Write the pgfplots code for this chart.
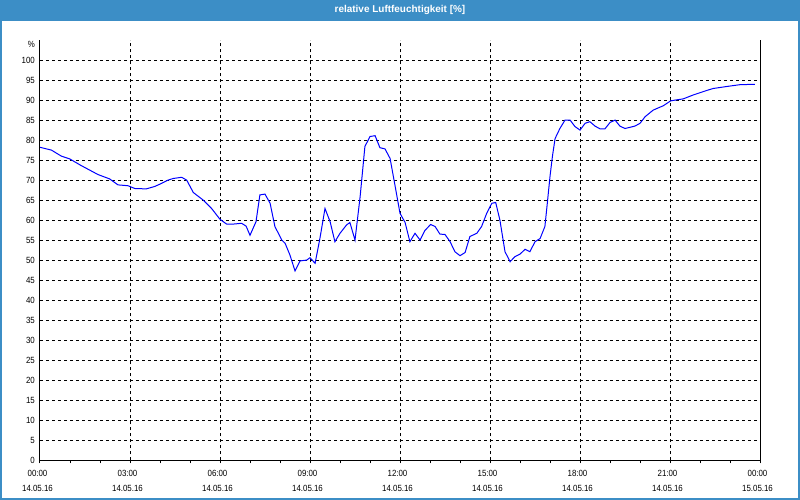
\documentclass[border=0pt]{standalone}
\usepackage{pgfplots}
\pgfplotsset{compat=1.18}
\usepackage{fontspec}
\setmainfont{Liberation Sans}[FakeStretch=0.88]
\newfontfamily\titlefont{Liberation Sans}
\definecolor{titleblue}{HTML}{3C8EC6}
\begin{document}
\begin{tikzpicture}
\useasboundingbox (0bp,0bp) rectangle (800bp,500bp);
\fill[white] (0bp,0bp) rectangle (800bp,500bp);
\fill[titleblue] (0bp,479.3bp) rectangle (800bp,500bp);
\fill[titleblue] (0bp,0bp) rectangle (1.7bp,500bp);
\fill[titleblue] (798.3bp,0bp) rectangle (800bp,500bp);
\fill[titleblue] (0bp,0bp) rectangle (800bp,1.7bp);
\node[text=white, font=\titlefont\bfseries\fontsize{10}{11}\selectfont] at (400bp,490bp) {relative Luftfeuchtigkeit [\%]};
\begin{axis}[
  at={(40bp,39.5bp)}, anchor=south west,
  scale only axis, width=720bp, height=420bp,
  xmin=0, xmax=24, ymin=0, ymax=105,
  clip=false,
  axis line style={draw=none},
  grid=major,
  major grid style={black, line width=1bp, dash pattern=on 3bp off 3bp},
  xtick={0,3,...,24},
  minor xtick={1,2,4,5,7,8,10,11,13,14,16,17,19,20,22,23},
  xtick pos=bottom,
  xticklabels={{00:00\\14.05.16},{03:00\\14.05.16},{06:00\\14.05.16},{09:00\\14.05.16},{12:00\\14.05.16},{15:00\\14.05.16},{18:00\\14.05.16},{21:00\\14.05.16},{00:00\\15.05.16}},
  xticklabel style={align=center, font=\fontsize{9}{14.5}\selectfont, xshift=-2.5bp, inner sep=0pt, yshift=-7bp},
  tick align=outside,
  major tick length=3bp, minor tick length=3bp,
  x tick style={black, line width=1bp},
  ytick={0,5,...,100},
  ytick pos=left,
  y tick style={draw=none},
  extra y ticks={104.1},
  extra y tick labels={\%},
  extra y tick style={grid=none},
  yticklabel style={font=\fontsize{9}{10}\selectfont, inner sep=0pt, xshift=-2bp},
  /pgf/number format/assume math mode=true,
]
\addplot[blue, line width=1bp] coordinates {
(0.00,78.3) (0.38,77.6) (0.71,76.1) (0.99,75.4) (1.38,73.7) (1.93,71.5) (2.32,70.4)
(2.60,68.9) (2.93,68.7) (3.16,68.0) (3.54,67.9) (3.82,68.5) (4.00,69.1) (4.27,70.1)
(4.44,70.5) (4.72,70.8) (4.89,70.1) (5.11,67.0) (5.44,65.1) (5.72,63.0) (6.00,60.3)
(6.22,59.1) (6.44,59.1) (6.72,59.3) (6.87,58.6) (7.00,56.3) (7.20,59.7) (7.33,66.4)
(7.50,66.6) (7.67,64.3) (7.83,58.5) (8.06,55.1) (8.17,54.3) (8.33,51.4) (8.50,47.4)
(8.67,49.9) (8.89,50.1) (9.00,50.7) (9.17,49.3) (9.33,55.5) (9.50,63.0) (9.67,59.7)
(9.83,54.7) (10.00,56.8) (10.22,58.9) (10.33,59.5) (10.50,55.1) (10.67,65.9) (10.83,78.5)
(11.00,81.0) (11.17,81.2) (11.33,78.2) (11.50,77.9) (11.67,75.5) (11.83,68.9) (12.00,61.8)
(12.17,59.5) (12.33,54.7) (12.50,56.8) (12.67,55.1) (12.83,57.5) (13.02,59.0) (13.17,58.5)
(13.33,56.6) (13.50,56.5) (13.67,54.7) (13.83,52.2) (14.00,51.2) (14.17,52.0) (14.33,56.0)
(14.56,56.8) (14.72,58.5) (14.89,61.8) (15.06,64.3) (15.19,64.5) (15.33,60.1) (15.50,52.2)
(15.67,49.7) (15.83,50.95) (16.00,51.6) (16.17,52.8) (16.33,52.2) (16.50,54.7) (16.67,55.5)
(16.83,58.5) (16.91,64.3) (17.00,71.0) (17.08,76.0) (17.17,80.5) (17.33,83.0) (17.50,85.1)
(17.67,85.1) (17.83,83.5) (18.00,82.6) (18.17,84.3) (18.33,84.7) (18.50,83.6) (18.67,82.9)
(18.83,82.9) (19.00,84.5) (19.17,85.1) (19.33,83.6) (19.50,83.0) (19.67,83.3) (19.83,83.6)
(20.00,84.3) (20.17,85.95) (20.44,87.6) (20.78,88.7) (21.02,89.9) (21.17,90.1) (21.44,90.4)
(21.78,91.4) (22.22,92.5) (22.44,93.0) (22.89,93.5) (23.33,93.95) (23.83,94.05)
};
\draw[black, line width=1bp] (rel axis cs:0,1) -- (rel axis cs:0,0) -- (rel axis cs:1,0) -- (rel axis cs:1,1);
\end{axis}
\end{tikzpicture}
\end{document}
